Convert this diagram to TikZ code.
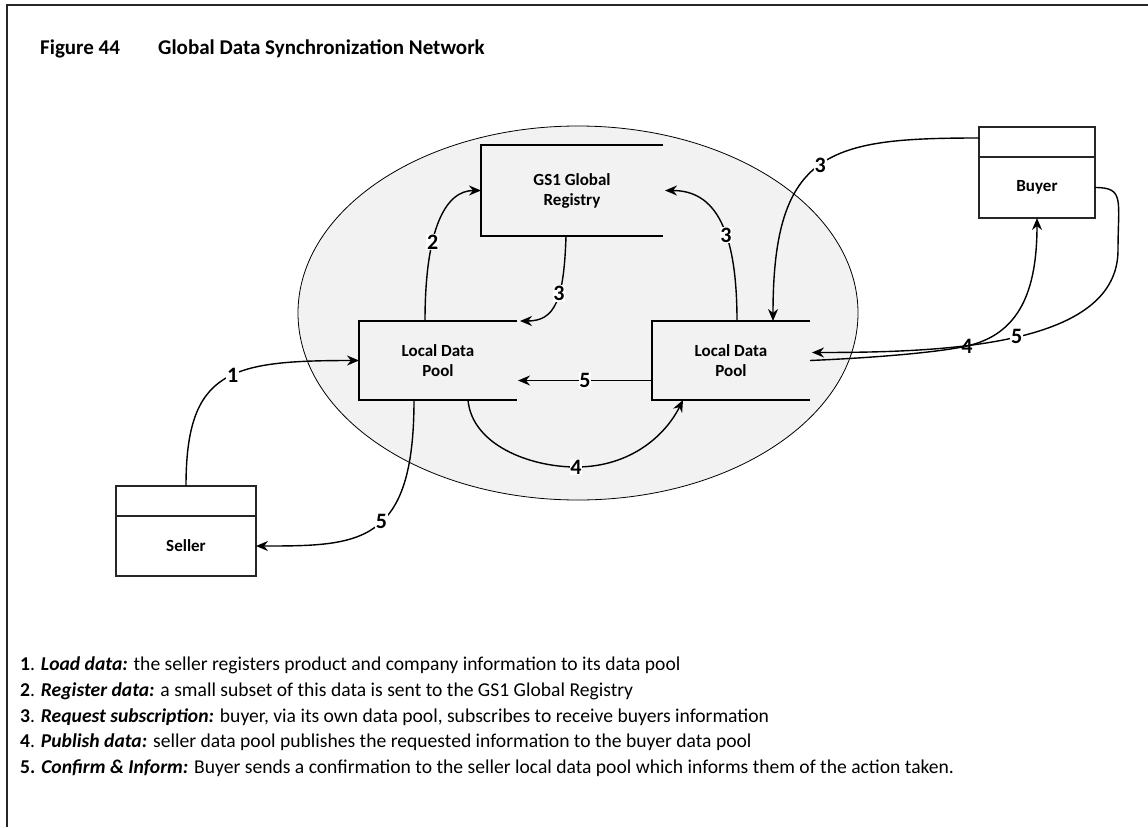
\documentclass[tikz,border=0pt]{standalone}
\usepackage{fontspec}
\setmainfont{Carlito}
\usetikzlibrary{arrows.meta,calc,shapes.geometric}

\begin{document}
\begin{tikzpicture}[x=1pt,y=-1pt,
  frame/.style={line width=2pt,black!85},
  network/.style={ellipse,draw,line width=0.8pt,fill=black!5,inner sep=0pt,
    minimum width=560pt,minimum height=374pt},
  pool/.style={inner sep=0pt,outer sep=0pt,minimum width=158pt,minimum height=79pt,
    align=center,font=\fontsize{17}{20}\selectfont\bfseries},
  side/.style={line width=1.3pt},
  cell/.style={draw,line width=1.2pt,black!85,text=black,inner sep=0pt,outer sep=0pt,
    font=\fontsize{17}{20}\selectfont\bfseries},
  conn/.style={line width=1.4pt,-{Stealth[length=12pt,width=10pt]}},
  lbl/.style={fill=white,inner sep=0.8pt,font=\fontsize{22}{22}\selectfont\bfseries},
  legend/.style={anchor=base west,inner sep=0pt,font=\fontsize{19.6}{22}\selectfont},
  caption/.style={anchor=base west,inner sep=0pt,font=\fontsize{21}{21}\selectfont\bfseries},
]
\useasboundingbox (0,0) rectangle (1148,827);

% outer frame (top and left edges)
\draw[frame] (1148,5) -- (7,5) -- (7,827);

% caption
\node[caption] (fignum) at (40,54) {Figure 44};
\node[caption] (figtitle) at (158,54) {Global Data Synchronization Network};

% the network cloud
\node[network] (net) at (578,313) {};

% registry and the two data pools (open on their right side)
\node[pool,minimum width=182pt,minimum height=91pt] (gs1) at (572,190.5) {GS1 Global\\Registry};
\draw[side] (gs1.north east) -- (gs1.north west) -- (gs1.south west) -- (gs1.south east);

\node[pool] (lp1) at (438,360.5) {Local Data\\Pool};
\draw[side] (lp1.north east) -- (lp1.north west) -- (lp1.south west) -- (lp1.south east);

\node[pool] (lp2) at (731,360.5) {Local Data\\Pool};
\draw[side] (lp2.north east) -- (lp2.north west) -- (lp2.south west) -- (lp2.south east);

% trading partners
\node[cell,minimum width=116pt,minimum height=30pt] (buyerTop) at (1037,142) {};
\node[cell,minimum width=116pt,minimum height=61pt,anchor=north] (buyer) at (buyerTop.south) {Buyer};

\node[cell,minimum width=140pt,minimum height=30pt] (sellerTop) at (186,501) {};
\node[cell,minimum width=140pt,minimum height=60pt,anchor=north] (seller) at (sellerTop.south) {Seller};

% helper points on the longer curves
\coordinate (m4) at (576,467);
\coordinate (m4b) at (967,346);
\coordinate (k5) at (1118,250);

% 1: load data
\draw[conn] (sellerTop.north) .. controls +(0,-116) and +(-129,0) .. (lp1.west)
  node[lbl,pos=0.55] {1};

% 2: register data
\draw[conn] ($(lp1.north west)+(66,0)$) .. controls +(0,-91) and +(-36,0) .. (gs1.west)
  node[lbl,pos=0.36] {2};

% 3: request subscription
\draw[conn] ($(gs1.south)+(-6,0)$) .. controls +(-2,64) and +(35,0) .. ($(lp1.north east)+(3,0)$)
  node[lbl,pos=0.4] {3};
\draw[conn] ($(lp2.north west)+(85,0)$) .. controls +(0,-92) and +(50,0) .. ($(gs1.east)+(2,0)$)
  node[lbl,pos=0.4] {3};
\draw[conn] ($(buyerTop.west)+(0,-4)$) .. controls +(-149,0) and +(0,-171.5) .. ($(lp2.north west)+(121,0)$)
  node[lbl,pos=0.5] {3};

% 4: publish data
\draw[conn] ($(lp1.south west)+(109,0)$) .. controls +(4,45) and +(-46,0) .. (m4)
  .. controls +(54,0) and +(-18,36) .. ($(lp2.south west)+(31,0)$);
\node[lbl] (l4a) at (m4) {4};
\draw[conn] (lp2.east) .. controls +(70,-3) and +(-27,6) .. (m4b)
  .. controls +(53,-12) and +(0,72) .. (buyer.south);
\node[lbl,fill=none] (l4b) at (m4b) {4};

% 5: confirm and inform
\draw[conn] (buyer.east) .. controls +(30,0) and +(0,-50) .. (k5)
  .. controls +(0,95) and +(138,0) .. ($(lp2.east)+(2,-8)$) node[lbl,pos=0.5] {5};
\draw[conn] ($(lp2.west)+(0,20)$) -- node[lbl] {5} ($(lp1.east)+(1,20)$);
\draw[conn] ($(lp1.south west)+(55,0)$) .. controls +(0,145) and +(104,0) .. (seller.east)
  node[lbl,pos=0.45] {5};

% legend
\node[legend] (leg1) at (20,670) {\textbf{1}. \textbf{\textit{Load data:}} the seller registers product and company information to its data pool};
\node[legend] (leg2) at (20,696) {\textbf{2}. \textbf{\textit{Register data:}} a small subset of this data is sent to the GS1 Global Registry};
\node[legend] (leg3) at (20,722) {\textbf{3}. \textbf{\textit{Request subscription:}} buyer, via its own data pool, subscribes to receive buyers information};
\node[legend] (leg4) at (20,747) {\textbf{4}. \textbf{\textit{Publish data:}} seller data pool publishes the requested information to the buyer data pool};
\node[legend] (leg5) at (20,773) {\textbf{5.} \textbf{\textit{Confirm \& Inform:}} Buyer sends a confirmation to the seller local data pool which informs them of the action taken.};
\end{tikzpicture}
\end{document}
